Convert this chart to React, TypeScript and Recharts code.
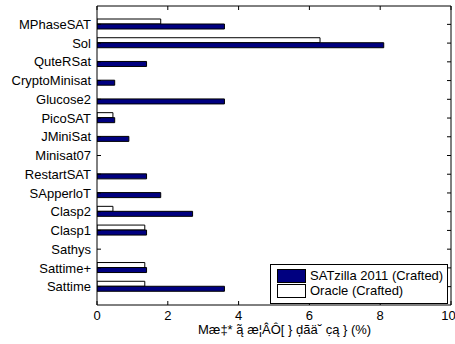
import { BarChart, Bar, XAxis, YAxis } from 'recharts';

const solvers = [
  'MPhaseSAT', 'Sol', 'QuteRSat', 'CryptoMinisat', 'Glucose2', 'PicoSAT', 'JMiniSat', 'Minisat07',
  'RestartSAT', 'SApperloT', 'Clasp2', 'Clasp1', 'Sathys', 'Sattime+', 'Sattime',
];
const satzilla = [3.6, 8.1, 1.4, 0.5, 3.6, 0.5, 0.9, 0, 1.4, 1.8, 2.7, 1.4, 0, 1.4, 3.6];
const oracle = [1.8, 6.3, 0, 0, 0, 0.45, 0, 0, 0, 0, 0.45, 1.35, 0, 1.35, 1.35];
const xTicks = [0, 2, 4, 6, 8, 10];
const xLabel = 'Mæ‡* ą̃ æ¦ÂÔ[ } ḑãä˘ c̣ą } (%)';

const NAVY = '#000080';
const FONT = '"Liberation Sans", Arial, sans-serif';

const rows = solvers.map((name, i) => ({ name, satzilla: satzilla[i], oracle: oracle[i] }));
const blank = () => '';

export default function App() {
  const tickStyle = { fill: '#000', fontSize: 13, fontFamily: FONT };
  return (
    <div style={{ position: 'fixed', left: 0, top: 0, width: 455, height: 344, background: '#fff', fontFamily: FONT }}>
      <BarChart
        width={455}
        height={344}
        data={rows}
        layout="vertical"
        margin={{ top: 5, right: 3, left: 0, bottom: 0 }}
        barGap={0}
        barCategoryGap={0}
      >
        <XAxis
          type="number"
          domain={[0, 10]}
          ticks={xTicks}
          height={39}
          stroke="#000"
          tickSize={-4}
          tickMargin={10}
          tick={tickStyle}
          allowDataOverflow
        />
        {/* top + right axes only close the box (matlab style) */}
        <XAxis
          xAxisId="top"
          orientation="top"
          type="number"
          domain={[0, 10]}
          ticks={xTicks}
          height={1}
          stroke="#000"
          tickSize={-4}
          tickFormatter={blank}
          allowDataOverflow
        />
        <YAxis
          type="category"
          dataKey="name"
          width={97}
          stroke="#000"
          tickSize={-4}
          tickMargin={10}
          tick={tickStyle}
          interval={0}
          padding={{ top: 9, bottom: 9 }}
        />
        <YAxis
          yAxisId="right"
          orientation="right"
          type="category"
          dataKey="name"
          width={1}
          stroke="#000"
          tickSize={-4}
          tickFormatter={blank}
          interval={0}
          padding={{ top: 9, bottom: 9 }}
        />
        <Bar dataKey="oracle" name="Oracle (Crafted)" fill="#fff" stroke="#000" strokeWidth={1} barSize={5} isAnimationActive={false} />
        <Bar dataKey="satzilla" name="SATzilla 2011 (Crafted)" fill={NAVY} stroke="#000" strokeWidth={1} barSize={5} isAnimationActive={false} />
      </BarChart>
      <div
        style={{
          position: 'absolute', left: 198, top: 323, fontSize: 13, lineHeight: '14px', whiteSpace: 'nowrap', color: '#000',
        }}
      >
        {xLabel}
      </div>
      <div
        style={{
          position: 'absolute', left: 270, top: 264, width: 176, height: 38, border: '1px solid #000', background: '#fff',
          fontSize: 13, color: '#000',
        }}
      >
        {[
          { label: 'SATzilla 2011 (Crafted)', fill: NAVY },
          { label: 'Oracle (Crafted)', fill: '#fff' },
        ].map((item, i) => (
          <div key={i} style={{ position: 'absolute', left: 6, top: 4 + i * 15, height: 14, display: 'flex', alignItems: 'center' }}>
            <span style={{ display: 'inline-block', width: 27, height: 12, background: item.fill, border: '1px solid #000', marginRight: 4 }} />
            <span style={{ lineHeight: '14px' }}>{item.label}</span>
          </div>
        ))}
      </div>
    </div>
  );
}
